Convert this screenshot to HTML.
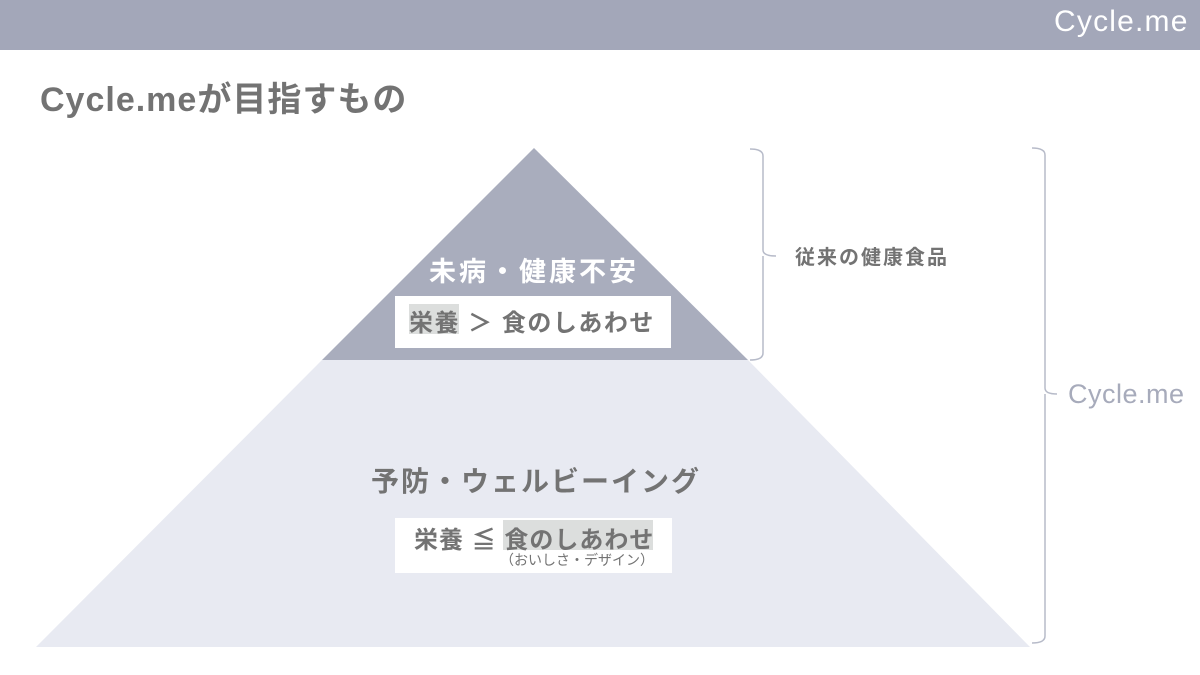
<!DOCTYPE html>
<html><head><meta charset="utf-8"><style>
body{margin:0;width:1200px;height:675px;background:#fff;position:relative;overflow:hidden;font-family:"Liberation Sans","Noto Sans CJK JP",sans-serif;}
.a{position:absolute;white-space:nowrap;}
</style></head><body>
<div class="a" style="left:0;top:0;width:1200px;height:50px;background:#a3a7b9;"></div>
<div class="a" style="left:1054px;top:5px;font-size:30px;color:#fff;letter-spacing:1.2px;">Cycle.me</div>
<div class="a" style="left:40px;top:72px;font-size:34px;font-weight:bold;color:#737373;letter-spacing:1px;">Cycle.meが目指すもの</div>
<svg class="a" style="left:0;top:0" width="1200" height="675">
<polygon points="322,360 748,360 1030,647 36,647" fill="#e8eaf2"/>
<polygon points="534,148 748,360 322,360" fill="#a9adbd"/>
<path d="M750,149 Q763,149 763,156 L763,250 Q763,256 776,256 M763,256 Q763,262 763,268 L763,353 Q763,360 750,360" fill="none" stroke="#b7bbc9" stroke-width="1.5"/>
<path d="M1032,148 Q1045,148 1045,155 L1045,388 Q1045,394 1057,394 M1045,394 L1045,636 Q1045,643 1032,643" fill="none" stroke="#b7bbc9" stroke-width="1.5"/>
<rect x="395" y="296" width="276" height="52" fill="#fff"/>
<rect x="409" y="304" width="50" height="30" fill="#dcdedd"/>
<rect x="395" y="518" width="277" height="55" fill="#fff"/>
<rect x="503" y="520" width="150" height="30" fill="#dcdedd"/>
</svg>
<div class="a" style="left:429px;top:250px;font-size:27px;font-weight:bold;color:#fff;letter-spacing:3px;">未病・健康不安</div>
<div class="a" style="left:409px;top:303px;font-size:24px;font-weight:bold;color:#737373;letter-spacing:1.5px;">栄養 ＞ 食のしあわせ</div>
<div class="a" style="left:371px;top:460px;font-size:28px;font-weight:bold;color:#737373;letter-spacing:2px;">予防・ウェルビーイング</div>
<div class="a" style="left:414px;top:520px;font-size:24px;font-weight:bold;color:#737373;letter-spacing:1px;">栄養 ≦ 食のしあわせ</div>
<div class="a" style="left:500px;top:550px;font-size:14px;color:#737373;">（おいしさ・デザイン）</div>
<div class="a" style="left:795px;top:241px;font-size:20px;font-weight:bold;color:#737373;letter-spacing:2px;">従来の健康食品</div>
<div class="a" style="left:1068px;top:379px;font-size:27px;color:#a7abbb;letter-spacing:0.5px;">Cycle.me</div>
</body></html>
